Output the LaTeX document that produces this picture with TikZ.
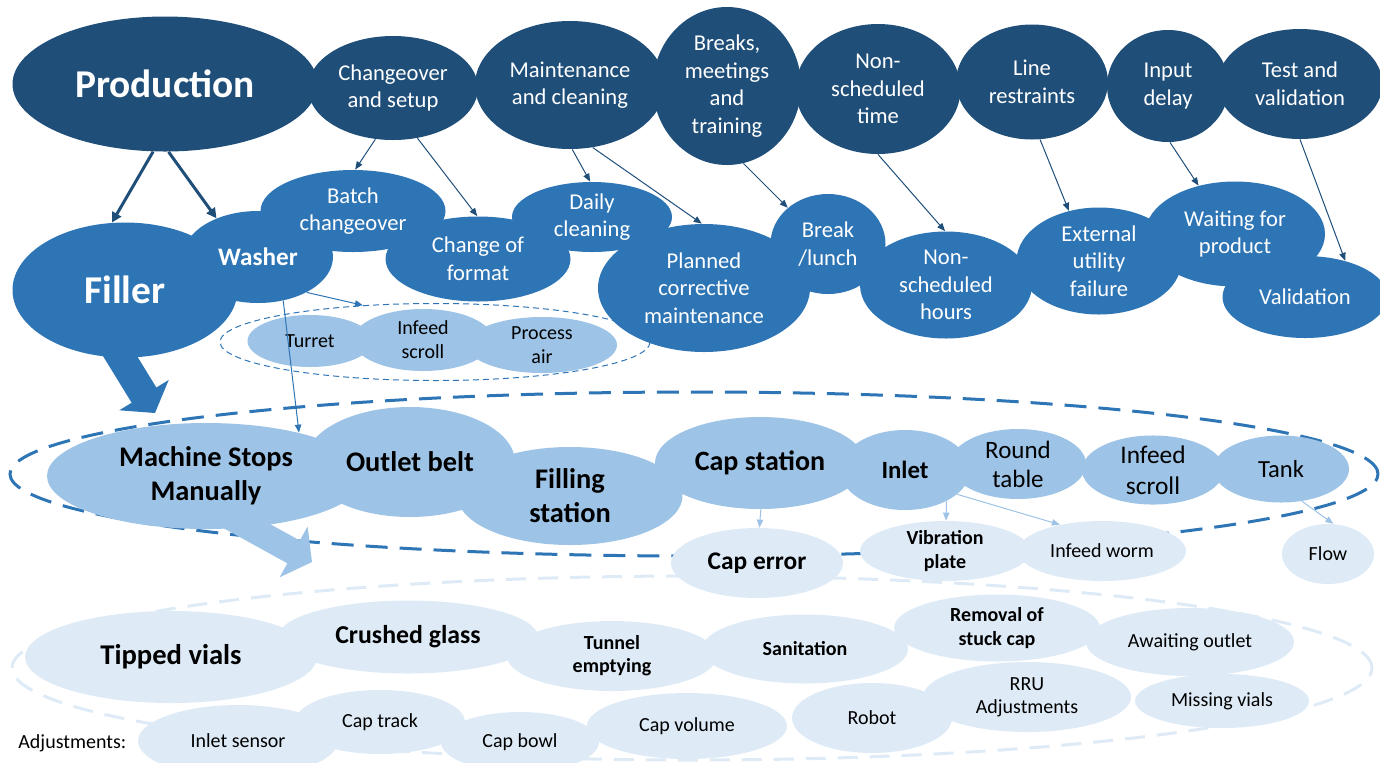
\documentclass[tikz,border=0pt]{standalone}
\usepackage{fontspec}
\setmainfont{Carlito}
\usetikzlibrary{shapes.geometric, arrows.meta}
\definecolor{navy}{HTML}{1F4E79}
\definecolor{steel}{HTML}{2E75B6}
\definecolor{sky}{HTML}{9DC3E6}
\definecolor{ice}{HTML}{DEEBF7}
\newcommand{\fsz}[2]{\fontsize{#1}{#2}\selectfont}
\tikzset{
    blob/.style={ellipse, inner sep=0pt, align=center}, % every bubble
    dims/.style 2 args={minimum width=#1*0.5pt, minimum height=#2*0.5pt}, % size in pixels
    lvlone/.style={blob, fill=navy, text=white, font=\fsz{11.3}{13.8}},
    lvltwo/.style={blob, fill=steel, text=white, font=\fsz{11.3}{13.8}},
    lvlthree/.style={blob, fill=sky, text=black, font=\bfseries\fsz{14.2}{17}},
    lvlfour/.style={blob, fill=ice, text=black, font=\fsz{10}{12}},
    ring/.style={ellipse, inner sep=0pt, draw=#1}, % dashed group outline
    thinarrow/.style={-{Triangle[length=4pt,width=3.2pt]}, line width=0.5pt, draw=#1},
    fatarrow/.style={-{Triangle[length=5pt,width=5pt]}, line width=1.5pt, draw=navy},
    blockarrow/.style={-{Triangle[length=10.5pt,width=28.5pt]}, line cap=butt, draw=#1}
}

\begin{document}
\begin{tikzpicture}[x=0.5pt, y=-0.5pt]
    \useasboundingbox (0,0) rectangle (1380,762);
    \clip (0,0) rectangle (1380,762);

    \node[ring=ice, line width=1.5pt, dash pattern=on 10pt off 6pt, dims={1360}{184}] (adjgrp) at (692,668) {};
    \node[ring=steel, line width=1.5pt, dash pattern=on 11pt off 6pt, dims={1368}{164}] (stopgrp) at (694,474) {};
    \node[ring=steel, line width=0.5pt, dash pattern=on 3pt off 2pt, dims={430}{77}] (washgrp) at (435,342) {};

    \coordinate (fillerfoot) at (112,343);
    \coordinate (fillertip) at (155,413);
    \coordinate (stopsfoot) at (223,513);
    \coordinate (stopstip) at (312,562);
    \draw[blockarrow=steel, line width=14.5pt] (fillerfoot) -- (fillertip);
    \draw[blockarrow=sky, line width=13pt] (stopsfoot) -- (stopstip);

    \node[lvlone, dims={305}{135}, font=\bfseries\fsz{19.7}{23}] (prod) at (165,84) {Production};
    \node[lvlone, dims={170}{104}] (chg) at (393,88) {Changeover\\and setup};
    \node[lvlone, dims={190}{128}] (maint) at (570,85) {Maintenance\\and cleaning};
    \node[lvlone, dims={148}{158}] (brk) at (727,86) {Breaks,\\meetings\\and\\training};
    \node[lvlone, dims={165}{130}] (nsch) at (878,89) {Non-\\scheduled\\time};
    \node[lvlone, dims={152}{115}] (line) at (1032,82) {Line\\restraints};
    \node[lvlone, dims={122}{112}] (inp) at (1168,86) {Input\\delay};
    \node[lvlone, dims={165}{110}] (test) at (1300,84) {Test and\\validation};

    \node[lvltwo, dims={225}{135}, font=\bfseries\fsz{19.7}{23}] (filler) at (125,290) {Filler};
    \node[lvltwo, dims={150}{92}, font=\bfseries\fsz{12.6}{15}] (washer) at (258,257) {Washer};
    \node[lvltwo, dims={185}{82}] (batch) at (353,211) {Batch\\changeover};
    \node[lvltwo, dims={185}{85}] (fmt) at (478,259) {Change of\\format};
    \node[lvltwo, dims={160}{70}] (daily) at (592,217) {Daily\\cleaning};
    \node[lvltwo, dims={212}{128}] (plan) at (704,288) {Planned\\corrective\\maintenance};
    \node[lvltwo, dims={115}{100}] (lunch) at (828,244) {Break\\/lunch};
    \node[lvltwo, dims={172}{107}] (nshr) at (946,285) {Non-\\scheduled\\hours};
    \node[lvltwo, dims={165}{107}] (ext) at (1099,261) {External\\utility\\failure};
    \node[lvltwo, dims={180}{105}] (wait) at (1235,234) {Waiting for\\product};
    \node[lvltwo, dims={165}{82}] (valid) at (1305,297) {Validation};

    \node[lvlthree, dims={125}{52}, font=\fsz{10}{12}] (turret) at (310,341) {Turret};
    \node[lvlthree, dims={140}{62}, font=\fsz{10}{12}] (wscroll) at (423,340) {Infeed\\scroll};
    \node[lvlthree, dims={150}{56}, font=\fsz{10}{12}] (pair) at (542,345) {Process\\air};

    \node[lvlthree, dims={318}{106}] (ms) at (206,476) {Machine Stops\\Manually};
    \node[lvlthree, dims={210}{110}] (outlet) at (410,462) {Outlet belt};
    \node[lvlthree, dims={225}{98}] (filling) at (570,496) {Filling\\station};
    \node[lvlthree, dims={210}{92}, font=\bfseries\fsz{14}{17}] (capst) at (760,463) {Cap station};
    \node[lvlthree, dims={130}{80}, font=\bfseries\fsz{12.4}{15}] (inlet) at (905,470) {Inlet};
    \node[lvlthree, dims={136}{70}, font=\fsz{12.5}{14.5}] (round) at (1018,464) {Round\\table};
    \node[lvlthree, dims={142}{68}, font=\fsz{12.7}{15.5}] (scroll) at (1153,470) {Infeed\\scroll};
    \node[lvlthree, dims={136}{67}, font=\fsz{12.3}{15}] (tank) at (1281,469) {Tank};

    \node[lvlfour, dims={172}{70}, font=\bfseries\fsz{12.7}{15}] (caperr) at (757,563) {Cap error};
    \node[lvlfour, dims={170}{60}, font=\bfseries\fsz{10}{12}] (vib) at (945,551) {Vibration\\plate};
    \node[lvlfour, dims={168}{60}] (worm) at (1102,551) {Infeed worm};
    \node[lvlfour, dims={92}{60}] (flow) at (1328,554) {Flow};

    \node[lvlfour, dims={292}{92}, font=\bfseries\fsz{14.3}{17}] (tipped) at (171,657) {Tipped vials};
    \node[lvlfour, dims={260}{73}, font=\bfseries\fsz{12.9}{15}] (crushed) at (408,637) {Crushed glass};
    \node[lvlfour, dims={210}{70}, font=\bfseries\fsz{10}{11.5}] (tunnel) at (612,656) {Tunnel\\emptying};
    \node[lvlfour, dims={206}{69}, font=\bfseries\fsz{10}{12}] (sanit) at (805,649) {Sanitation};
    \node[lvlfour, dims={206}{67}, font=\bfseries\fsz{10}{12}] (stuck) at (997,628) {Removal of\\stuck cap};
    \node[lvlfour, dims={208}{68}] (await) at (1190,642) {Awaiting outlet};

    \node[lvlfour, dims={200}{72}] (isens) at (238,741) {Inlet sensor};
    \node[lvlfour, dims={170}{64}] (ctrack) at (380,722) {Cap track};
    \node[lvlfour, dims={158}{60}] (cbowl) at (520,742) {Cap bowl};
    \node[lvlfour, dims={200}{66}] (cvol) at (687,726) {Cap volume};
    \node[lvlfour, dims={160}{70}] (robot) at (872,718) {Robot};
    \node[lvlfour, dims={208}{70}, font=\fsz{10}{11.5}] (rru) at (1027,697) {RRU\\Adjustments};
    \node[lvlfour, dims={174}{54}] (missing) at (1222,701) {Missing vials};
    \node[anchor=west, inner sep=0pt, font=\fsz{10}{12}] (adjlbl) at (18,743) {Adjustments:};

    \draw[fatarrow] (prod.260) -- (filler.101);
    \draw[fatarrow] (prod.273) -- (washer.137);

    \draw[thinarrow=navy] (chg.251) -- (batch.87);
    \draw[thinarrow=navy] (chg.-64) -- (fmt.91);
    \draw[thinarrow=navy] (maint.-88) -- (daily.93);
    \draw[thinarrow=navy] (maint.-70) -- (plan.92);
    \draw[thinarrow=navy] (brk.-78) -- (lunch.138);
    \draw[thinarrow=navy] (nsch.-90) -- (nshr.91);
    \draw[thinarrow=navy] (line.-82) -- (ext.121);
    \draw[thinarrow=navy] (inp.-88) -- (wait.127);
    \draw[thinarrow=navy] (test.-90) -- (valid.42);

    \draw[thinarrow=steel] (washer.-36) -- (washgrp.153);
    \draw[thinarrow=steel] (washer.-60) -- (ms.25);

    \draw[thinarrow=sky] (capst.-89) -- (caperr.86);
    \draw[thinarrow=sky] (inlet.-37) -- (vib.88);
    \draw[thinarrow=sky] (inlet.-25) -- (worm.148);
    \draw[thinarrow=sky] (tank.-57) -- (flow.80);

\end{tikzpicture}
\end{document}
